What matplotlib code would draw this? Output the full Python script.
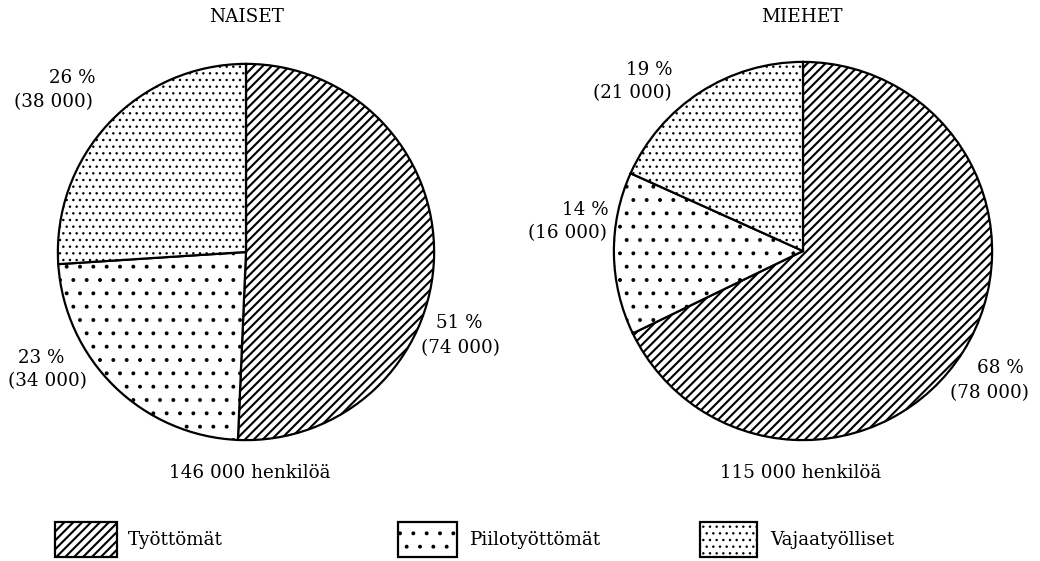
import matplotlib
matplotlib.use("Agg")
import matplotlib.pyplot as plt
from matplotlib.patches import Rectangle

# data
groups = ['NAISET', 'MIEHET']
categories = ['Työttömät', 'Piilotyöttömät', 'Vajaatyölliset']
naiset_counts = [74000, 34000, 38000]
miehet_counts = [78000, 16000, 21000]
naiset_pct = [51, 23, 26]
miehet_pct = [68, 14, 19]
totals = [146000, 115000]

hatches = ['///', '.', '..']
hatch_lw = [1.9, 1.1, 1.0]

W, H, DPI = 1040, 561, 80
plt.rcParams['font.family'] = 'DejaVu Serif'
plt.rcParams['hatch.linewidth'] = 1.2
FS = 16.5

fig = plt.figure(figsize=(W / DPI, H / DPI), dpi=DPI)
fig.patch.set_facecolor('white')


def fx(x):
    return x / W


def fy(y):
    return 1 - y / H


def fmt(v):
    return f"{v:,}".replace(',', ' ')


def style_patch(patch, k):
    patch.set_hatch(hatches[k])
    if hasattr(patch, 'set_hatch_linewidth'):
        patch.set_hatch_linewidth(hatch_lw[k])


# pie centres and radii in pixels
pies = [
    dict(cx=246, cy=252, r=190, counts=naiset_counts, pct=naiset_pct,
         label_pos=[[(459.5, 323), (460.5, 348)],
                    [(41.5, 358), (47, 381)],
                    [(72.5, 78), (54, 102)]],
         title_x=246, total_x=250),
    dict(cx=803, cy=251, r=191, counts=miehet_counts, pct=miehet_pct,
         label_pos=[[(1000.5, 368), (989, 393)],
                    [(585, 210), (567, 233)],
                    [(649.5, 70), (632, 93)]],
         title_x=802, total_x=801),
]

for i, p in enumerate(pies):
    ax = fig.add_axes([fx(p['cx'] - p['r']), fy(p['cy'] + p['r']),
                       2 * p['r'] / W, 2 * p['r'] / H])
    wedges, _ = ax.pie(p['counts'], startangle=90, counterclock=False,
                       colors=['white'] * 3, radius=1,
                       wedgeprops=dict(edgecolor='black', linewidth=2))
    for k, w in enumerate(wedges):
        style_patch(w, k)
    ax.set_xlim(-1.01, 1.01)
    ax.set_ylim(-1.01, 1.01)
    ax.set_aspect('equal')
    ax.axis('off')

    for j, (pos1, pos2) in enumerate(p['label_pos']):
        fig.text(fx(pos1[0]), fy(pos1[1]), f"{p['pct'][j]} %",
                 ha='center', va='center', fontsize=FS)
        fig.text(fx(pos2[0]), fy(pos2[1]), f"({fmt(p['counts'][j])})",
                 ha='center', va='center', fontsize=FS)

    fig.text(fx(p['title_x']), fy(17), groups[i],
             ha='center', va='center', fontsize=FS)
    fig.text(fx(p['total_x']), fy(473), f"{fmt(totals[i])} henkilöä",
             ha='center', va='center', fontsize=FS)

# legend boxes
legend_boxes = [(55, 117), (398, 457), (700, 757)]
legend_text_x = [128, 470, 770]
for k, ((x0, x1), tx, name) in enumerate(zip(legend_boxes, legend_text_x, categories)):
    rect = Rectangle((fx(x0), fy(557)), (x1 - x0) / W, 35 / H,
                     transform=fig.transFigure, facecolor='white',
                     edgecolor='black', linewidth=2)
    style_patch(rect, k)
    fig.patches.append(rect)
    fig.text(fx(tx), fy(540), name, ha='left', va='center', fontsize=FS)

fig.savefig('out.png', dpi=DPI)
